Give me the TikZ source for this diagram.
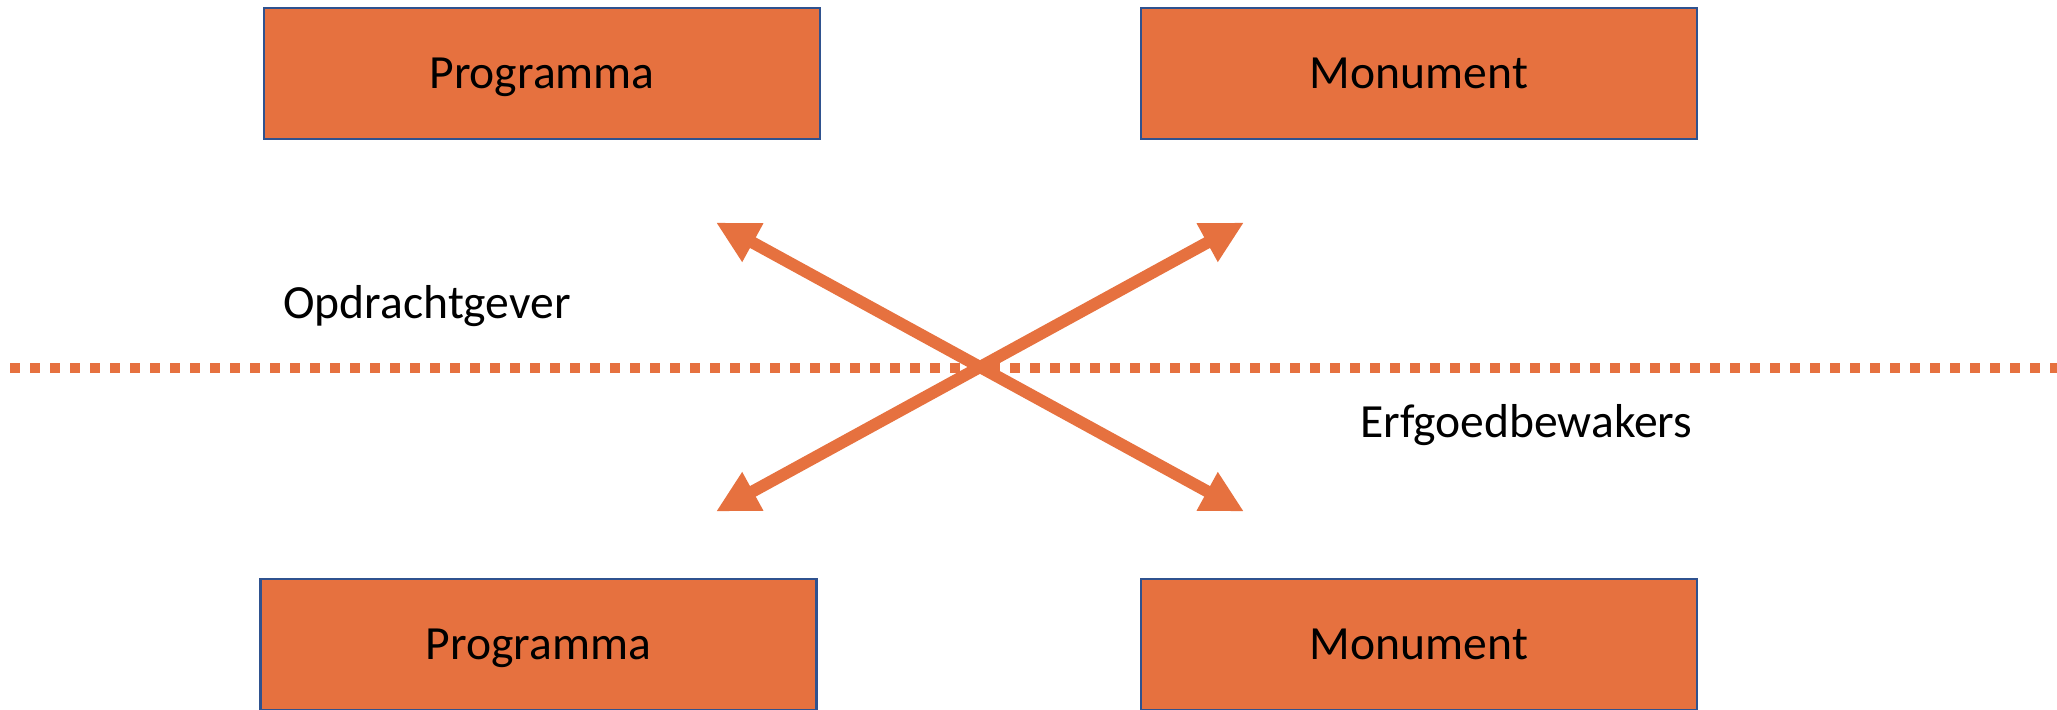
\documentclass[tikz,border=0pt]{standalone}
\usepackage{fontspec}
\setmainfont{Carlito}
\usetikzlibrary{arrows.meta}
\definecolor{boxfill}{HTML}{E6713F}
\definecolor{boxline}{HTML}{2F528F}
\tikzset{
  box/.style={draw=boxline, line width=1.2pt, fill=boxfill, minimum width=278pt, minimum height=65.5pt, inner sep=0pt, text height=15.3pt, text depth=0pt, font=\fontsize{23.8}{28}\selectfont},
  lbl/.style={font=\fontsize{23.8}{28}\selectfont, inner sep=0pt, anchor=west},
  dblarrow/.style={draw=boxfill, line width=6pt, {Triangle[length=21pt,width=20.5pt]}-{Triangle[length=21pt,width=20.5pt]}},
  sep/.style={draw=boxfill, line width=5pt, dash pattern=on 5pt off 5pt}
}
\begin{document}
\begin{tikzpicture}[x=0.5pt,y=-0.5pt]
\useasboundingbox (0,0) rectangle (2057,709);
\clip (0,0) rectangle (2057,709);
\node[box] (p1) at (542,73.5) {Programma};
\node[box] (m1) at (1419,73.5) {Monument};
\node[box] (p2) at (538.5,644.5) {Programma};
\node[box] (m2) at (1419,644.5) {Monument};
\coordinate (s1) at (10,368);
\coordinate (s2) at (2060,368);
\draw[sep] (s1) -- (s2);
\coordinate (tl) at (716,222.5);
\coordinate (tr) at (1244,222.5);
\coordinate (bl) at (716,511.5);
\coordinate (br) at (1244,511.5);
\draw[dblarrow] (tl) -- (br);
\draw[dblarrow] (bl) -- (tr);
\node[lbl] (op) at (283,306) {Opdrachtgever};
\node[lbl] (er) at (1360,425) {Erfgoedbewakers};
\end{tikzpicture}
\end{document}
